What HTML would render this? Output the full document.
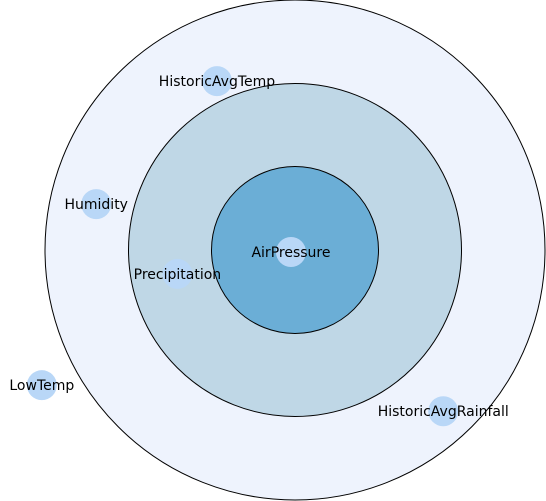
<!DOCTYPE html>
<html><head><meta charset="utf-8"><style>
html,body{margin:0;padding:0;background:#fff;}
svg{display:block;}
text{font-family:"DejaVu Sans","Liberation Sans",sans-serif;font-size:14px;fill:#000;}
</style></head><body>
<svg id="chart" width="546" height="501"></svg>
<script>
const ringNames = ["outer-ring","middle-ring","inner-ring"];
const ringRadii = [250, 166.5, 83.5];
const ringFills = ["#eef3fd","#bfd7e6","#6baed6"];
const nodeNames = ["HistoricAvgTemp","Humidity","Precipitation","AirPressure","LowTemp","HistoricAvgRainfall"];
const nodeDist = [186, 204, 120, 4.5, 287, 219];
const nodeAngle = [-114.8, -167, 168.5, 153, 151.9, 47.4];
const cx = 295, cy = 250;
const NS = "http://www.w3.org/2000/svg";
const svg = document.getElementById("chart");
ringRadii.forEach((r,i)=>{
  const c = document.createElementNS(NS,"circle");
  c.setAttribute("cx",cx);c.setAttribute("cy",cy);c.setAttribute("r",r);
  c.setAttribute("fill",ringFills[i]);c.setAttribute("stroke","#000");c.setAttribute("stroke-width","1");
  
  
  svg.appendChild(c);
});
nodeNames.forEach((n,i)=>{
  const a = nodeAngle[i]*Math.PI/180;
  const x = cx + nodeDist[i]*Math.cos(a), y = cy + nodeDist[i]*Math.sin(a);
  const g = document.createElementNS(NS,"g");
  
  
  const c = document.createElementNS(NS,"circle");
  c.setAttribute("cx",x);c.setAttribute("cy",y);c.setAttribute("r",15);
  c.setAttribute("fill","#b9d7f7");
  
  
  const t = document.createElementNS(NS,"text");
  t.setAttribute("x",x);t.setAttribute("y",y+5);t.setAttribute("text-anchor","middle");
  t.textContent = n;
  
  
  g.appendChild(c);g.appendChild(t);svg.appendChild(g);
});
</script>
</body></html>
